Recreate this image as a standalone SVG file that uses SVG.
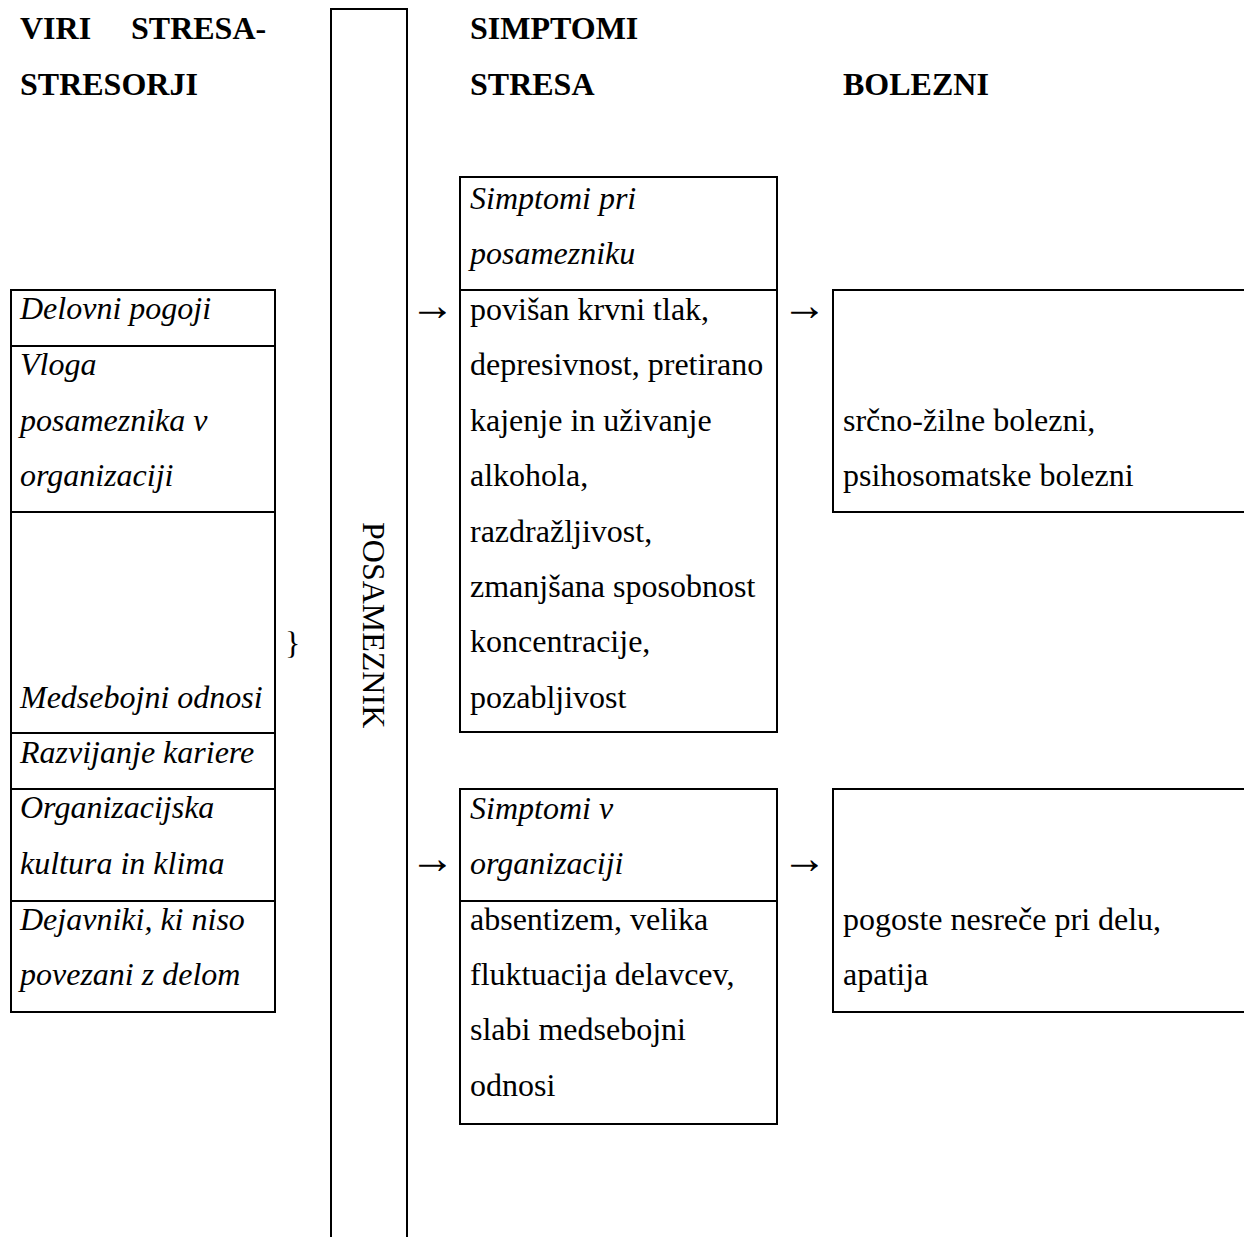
<svg xmlns="http://www.w3.org/2000/svg" width="1244" height="1237" viewBox="0 0 1244 1237">
<style>
text{font-family:"Liberation Serif","Times New Roman",serif;font-size:32px;fill:#000}
.h{font-weight:bold}
.i{font-style:italic}
.arr{font-size:45px}
.box{fill:none;stroke:#000;stroke-width:2}
.ln{stroke:#000;stroke-width:2;fill:none}
</style>
<rect width="1244" height="1237" fill="#fff"/>
<g id="headers">
<text class="h" x="20" y="39">VIRI</text>
<text class="h" x="131" y="39">STRESA-</text>
<text class="h" x="20" y="95">STRESORJI</text>
<text class="h" x="470" y="39">SIMPTOMI</text>
<text class="h" x="470" y="95">STRESA</text>
<text class="h" x="843" y="95">BOLEZNI</text>
</g>
<g id="stresorji">
<rect class="box" x="11" y="290" width="264" height="722"/>
<line class="ln" x1="11" y1="346" x2="275" y2="346"/>
<line class="ln" x1="11" y1="512" x2="275" y2="512"/>
<line class="ln" x1="11" y1="733" x2="275" y2="733"/>
<line class="ln" x1="11" y1="789" x2="275" y2="789"/>
<line class="ln" x1="11" y1="901" x2="275" y2="901"/>
<text class="i" x="20" y="319">Delovni pogoji</text>
<text class="i" x="20" y="375">Vloga</text>
<text class="i" x="20" y="431">posameznika v</text>
<text class="i" x="20" y="486">organizaciji</text>
<text class="i" x="20" y="708">Medsebojni odnosi</text>
<text class="i" x="20" y="763">Razvijanje kariere</text>
<text class="i" x="20" y="818">Organizacijska</text>
<text class="i" x="20" y="874">kultura in klima</text>
<text class="i" x="20" y="930">Dejavniki, ki niso</text>
<text class="i" x="20" y="985">povezani z delom</text>
</g>
<g id="brace">
<text x="285" y="654">}</text>
</g>
<g id="posameznik">
<path class="ln" d="M331,1237 V9 H407 V1237"/>
<text x="363" y="522" transform="rotate(90 363 522)">POSAMEZNIK</text>
</g>
<g id="simptomi-posameznik">
<rect class="box" x="460" y="177" width="317" height="555"/>
<line class="ln" x1="460" y1="290" x2="777" y2="290"/>
<text class="i" x="470" y="209">Simptomi pri</text>
<text class="i" x="470" y="264">posamezniku</text>
<text x="470" y="320">povišan krvni tlak,</text>
<text x="470" y="375">depresivnost, pretirano</text>
<text x="470" y="431">kajenje in uživanje</text>
<text x="470" y="486">alkohola,</text>
<text x="470" y="542">razdražljivost,</text>
<text x="470" y="597">zmanjšana sposobnost</text>
<text x="470" y="652">koncentracije,</text>
<text x="470" y="708">pozabljivost</text>
</g>
<g id="simptomi-organizacija">
<rect class="box" x="460" y="789" width="317" height="335"/>
<line class="ln" x1="460" y1="901" x2="777" y2="901"/>
<text class="i" x="470" y="819">Simptomi v</text>
<text class="i" x="470" y="874">organizaciji</text>
<text x="470" y="930">absentizem, velika</text>
<text x="470" y="985">fluktuacija delavcev,</text>
<text x="470" y="1040">slabi medsebojni</text>
<text x="470" y="1096">odnosi</text>
</g>
<g id="bolezni-posameznik">
<path class="ln" d="M1245,290 H833 V512 H1245"/>
<text x="843" y="431">srčno-žilne bolezni,</text>
<text x="843" y="486">psihosomatske bolezni</text>
</g>
<g id="bolezni-organizacija">
<path class="ln" d="M1245,789 H833 V1012 H1245"/>
<text x="843" y="930">pogoste nesreče pri delu,</text>
<text x="843" y="985">apatija</text>
</g>
<g id="connectors">
<text class="arr" x="410" y="320">→</text>
<text class="arr" x="782" y="320">→</text>
<text class="arr" x="410" y="873">→</text>
<text class="arr" x="782" y="873">→</text>
</g>
</svg>
